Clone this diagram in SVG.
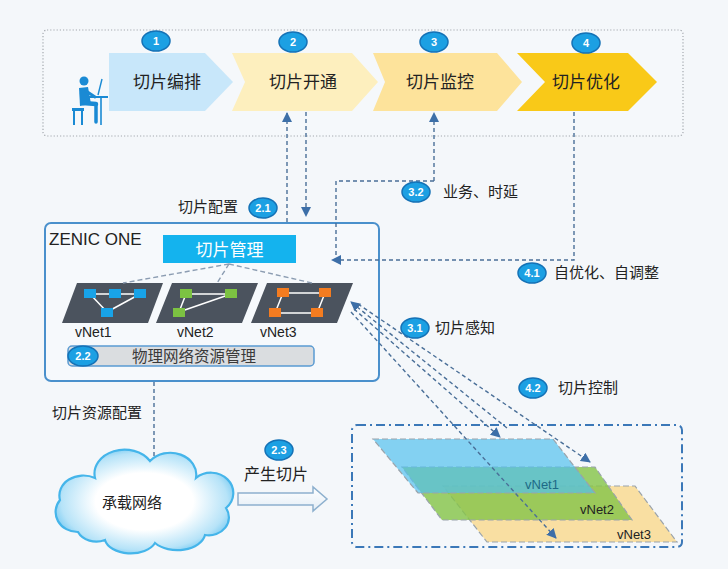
<svg xmlns="http://www.w3.org/2000/svg" width="728" height="569" viewBox="0 0 728 569">
  <defs>
    <style>
      .cn { font-family: "Noto Sans CJK SC", "Noto Sans", sans-serif; fill: #222; }
      .lat { font-family: "Liberation Sans", "Noto Sans", sans-serif; fill: #222; }
      .badge ellipse { fill: #1ca0e3; stroke: #1572b6; stroke-width: 1.5; }
      .badge text { font-family: "Liberation Sans", sans-serif; font-weight: bold; font-size: 11px; fill: #fff; text-anchor: middle; }
      .flow { fill: none; stroke: #4a6f98; stroke-width: 1.4; stroke-dasharray: 4 3; }
      .mgmt { fill: none; stroke: #8c9db2; stroke-width: 1.4; stroke-dasharray: 5 3; }
      .pg { fill: #4b535e; }
      .link { stroke: #ffffff; stroke-width: 1.5; }
      .slice { stroke: #9aa3ab; stroke-width: 1.2; stroke-dasharray: 6 3; }
    </style>
    <marker id="arr" viewBox="0 0 10 10" refX="9" refY="5" markerWidth="10" markerHeight="10" markerUnits="userSpaceOnUse" orient="auto">
      <path d="M0,0 L10,5 L0,10 Z" fill="#3d6fa8"/>
    </marker>
    <radialGradient id="cloudFill" cx="50%" cy="50%" r="55%">
      <stop offset="0" stop-color="#ffffff"/>
      <stop offset="0.5" stop-color="#ffffff"/>
      <stop offset="0.85" stop-color="#b6e3f8"/>
      <stop offset="1" stop-color="#6cc6f1"/>
    </radialGradient>
    <linearGradient id="hollow" x1="0" y1="0" x2="0" y2="1">
      <stop offset="0" stop-color="#ffffff"/>
      <stop offset="1" stop-color="#e3edf6"/>
    </linearGradient>
  </defs>

  <!-- canvas -->
  <rect x="0" y="0" width="728" height="569" fill="#f4f7fa"/>

  <!-- process lane -->
  <g id="lane">
    <rect x="43" y="30" width="640" height="106" rx="4" fill="#f5f8fb" stroke="#a3a8ae" stroke-width="1.2" stroke-dasharray="1.2 2"/>
  </g>

  <!-- operator icon -->
  <g id="operator" fill="#1a8ad4" stroke="#1a8ad4">
    <circle cx="84" cy="81" r="4.5" stroke="none"/>
    <path d="M79,88 L88,87 L91,104 L80,106 Z" stroke="none"/>
    <line x1="86" y1="91" x2="95" y2="97" stroke-width="3" stroke-linecap="round"/>
    <line x1="83" y1="103" x2="96" y2="104" stroke-width="4.5" stroke-linecap="round"/>
    <line x1="96" y1="104" x2="96" y2="122" stroke-width="3.5" stroke-linecap="round"/>
    <rect x="72" y="108" width="12" height="3" stroke="none"/>
    <line x1="74" y1="110" x2="74" y2="125" stroke-width="2"/>
    <line x1="82" y1="110" x2="82" y2="125" stroke-width="2"/>
    <rect x="87" y="96" width="21" height="2" stroke="none"/>
    <line x1="101" y1="97" x2="101" y2="125" stroke-width="1.6"/>
    <line x1="98" y1="95" x2="102" y2="79" stroke-width="1.4"/>
  </g>

  <!-- stage 1 -->
  <g id="stage1">
    <polygon points="109,53 205,53 233,82 205,111 109,111" fill="#c8e7fa"/>
    <text class="cn" x="167" y="88" font-size="17" text-anchor="middle">切片编排</text>
    <g class="badge"><ellipse cx="156" cy="41" rx="14" ry="10"/><text x="156" y="45">1</text></g>
  </g>
  <!-- stage 2 -->
  <g id="stage2">
    <polygon points="232,53 352,53 378,82 352,111 232,111 245,82" fill="#fdefbe"/>
    <text class="cn" x="303" y="88" font-size="17" text-anchor="middle">切片开通</text>
    <g class="badge"><ellipse cx="293" cy="42" rx="14" ry="10"/><text x="293" y="46">2</text></g>
  </g>
  <!-- stage 3 -->
  <g id="stage3">
    <polygon points="373,53 497,53 522,82 497,111 373,111 385,82" fill="#fde39b"/>
    <text class="cn" x="440" y="88" font-size="17" text-anchor="middle">切片监控</text>
    <g class="badge"><ellipse cx="434" cy="42" rx="14" ry="10"/><text x="434" y="46">3</text></g>
  </g>
  <!-- stage 4 -->
  <g id="stage4">
    <polygon points="517,53 628,53 657,82 628,111 517,111 545,82" fill="#f9c918"/>
    <text class="cn" x="586" y="88" font-size="17" text-anchor="middle">切片优化</text>
    <g class="badge"><ellipse cx="586" cy="43" rx="14" ry="10"/><text x="586" y="47">4</text></g>
  </g>

  <!-- controller -->
  <g id="zenic">
    <rect x="45" y="223" width="334" height="158" rx="6" fill="#f6f9fc" stroke="#4a90cc" stroke-width="2"/>
    <text class="lat" x="49" y="245" font-size="17">ZENIC ONE</text>
  </g>
  <g id="slice-mgmt">
    <rect x="163" y="235" width="133" height="28" fill="#14b3ee"/>
    <text class="cn" x="229.5" y="256" font-size="17" text-anchor="middle" style="fill:#ffffff">切片管理</text>
  </g>

  <g id="vnet1">
    <polygon class="pg" points="77,283 163,283 148,323 62,323"/>
    <line class="link" x1="90" y1="294" x2="140" y2="294"/>
    <line class="link" x1="90" y1="294" x2="107" y2="312"/>
    <line class="link" x1="140" y1="294" x2="107" y2="312"/>
    <g fill="#18a3e8">
      <rect x="84" y="289" width="12" height="9"/>
      <rect x="109" y="289" width="12" height="9"/>
      <rect x="134" y="289" width="12" height="9"/>
      <rect x="101" y="308" width="12" height="9"/>
    </g>
    <text class="lat" x="75" y="337" font-size="14">vNet1</text>
  </g>
  <g id="vnet2">
    <polygon class="pg" points="172,283 258,283 242,323 156,323"/>
    <line class="link" x1="186" y1="294" x2="231" y2="294"/>
    <line class="link" x1="186" y1="294" x2="179" y2="312"/>
    <line class="link" x1="179" y1="312" x2="231" y2="294"/>
    <g fill="#7cc242">
      <rect x="180" y="289" width="12" height="9"/>
      <rect x="225" y="289" width="12" height="9"/>
      <rect x="173" y="308" width="12" height="9"/>
    </g>
    <text class="lat" x="177" y="337" font-size="14">vNet2</text>
  </g>
  <g id="vnet3">
    <polygon class="pg" points="267,283 353,283 337,323 251,323"/>
    <line class="link" x1="283" y1="293" x2="325" y2="293"/>
    <line class="link" x1="283" y1="293" x2="275" y2="313"/>
    <line class="link" x1="275" y1="313" x2="317" y2="313"/>
    <line class="link" x1="325" y1="293" x2="317" y2="313"/>
    <g fill="#f47c20">
      <rect x="277" y="288" width="12" height="9"/>
      <rect x="319" y="288" width="12" height="9"/>
      <rect x="269" y="308" width="12" height="9"/>
      <rect x="311" y="308" width="12" height="9"/>
    </g>
    <text class="lat" x="260" y="337" font-size="14">vNet3</text>
  </g>

  <g id="phys-res">
    <rect x="68" y="346" width="246" height="20" rx="4" fill="#dadde0" stroke="#5a9bd2" stroke-width="1.5"/>
    <text class="cn" x="194" y="362" font-size="15.5" text-anchor="middle" style="fill:#3a3a3a">物理网络资源管理</text>
    <g class="badge"><ellipse cx="83" cy="356" rx="15" ry="10"/><text x="83" y="360">2.2</text></g>
  </g>

  <!-- bearer network -->
  <g id="bearer">
    <path d="M78,532 A22,20 0 0 1 60,500 A24,20 0 0 1 95,478 A30,24 0 0 1 150,461 A26,22 0 0 1 196,478 A22,20 0 0 1 226,508 A20,18 0 0 1 205,535 A28,18 0 0 1 155,543 A26,16 0 0 1 105,540 A20,16 0 0 1 78,532 Z" fill="url(#cloudFill)" stroke="#45b5ea" stroke-width="2.2"/>
    <text class="cn" x="132" y="508" font-size="15" text-anchor="middle">承载网络</text>
  </g>

  <g id="produce">
    <polygon points="238,493 313,493 313,487 327,499 313,511 313,505 238,505" fill="url(#hollow)" stroke="#8db0ce" stroke-width="1.5"/>
    <text class="cn" x="276" y="480" font-size="16" text-anchor="middle">产生切片</text>
    <g class="badge"><ellipse cx="279" cy="450" rx="14" ry="10"/><text x="279" y="454">2.3</text></g>
  </g>

  <!-- slice instances -->
  <g id="slices">
    <rect x="352" y="425" width="330" height="122" rx="5" fill="none" stroke="#3b78b8" stroke-width="2" stroke-dasharray="9 4 2 4"/>
    <polygon class="slice" points="443,486 635,486 677,542 487,542" fill="#f9dfa2"/>
    <polygon class="slice" points="402,467 595,467 632,520 442,520" fill="#86c54a" fill-opacity="0.82"/>
    <polygon class="slice" points="373,439 553,439 595,493 418,493" fill="#52c1ee" fill-opacity="0.7"/>
    <text class="lat" x="525" y="489" font-size="13" style="fill:#1d6a86">vNet1</text>
    <text class="lat" x="580" y="514" font-size="13">vNet2</text>
    <text class="lat" x="617" y="539" font-size="13">vNet3</text>
  </g>

  <!-- connectors -->
  <g id="connectors">
    <line class="mgmt" x1="229" y1="264" x2="123" y2="283"/>
    <line class="mgmt" x1="229" y1="264" x2="217" y2="283"/>
    <line class="mgmt" x1="229" y1="264" x2="312" y2="283"/>

    <line class="flow" x1="287" y1="222" x2="287" y2="113" marker-end="url(#arr)"/>
    <line class="flow" x1="306" y1="112" x2="306" y2="216" marker-end="url(#arr)"/>

    <line class="flow" x1="434" y1="181" x2="434" y2="113" marker-end="url(#arr)"/>
    <polyline class="flow" points="434,181 336,181 336,260"/>
    <polyline class="flow" points="574,112 574,260 332,260" marker-end="url(#arr)"/>

    <line class="flow" x1="507" y1="428" x2="351" y2="302" marker-end="url(#arr)"/>
    <line class="flow" x1="354" y1="309" x2="500" y2="437" marker-end="url(#arr)"/>
    <line class="flow" x1="358" y1="304" x2="590" y2="462" marker-end="url(#arr)"/>
    <line class="flow" x1="351" y1="312" x2="556" y2="538" marker-end="url(#arr)"/>

    <line class="flow" x1="154" y1="382" x2="154" y2="458"/>
  </g>

  <!-- annotations -->
  <g id="labels">
    <text class="cn" x="178" y="212" font-size="15">切片配置</text>
    <g class="badge"><ellipse cx="263" cy="208" rx="14" ry="10"/><text x="263" y="212">2.1</text></g>

    <g class="badge"><ellipse cx="416" cy="192" rx="14" ry="10"/><text x="416" y="196">3.2</text></g>
    <text class="cn" x="443" y="197" font-size="15">业务、时延</text>

    <g class="badge"><ellipse cx="532" cy="273" rx="14" ry="10"/><text x="532" y="277">4.1</text></g>
    <text class="cn" x="554" y="278" font-size="15">自优化、自调整</text>

    <g class="badge"><ellipse cx="415" cy="328" rx="14" ry="10"/><text x="415" y="332">3.1</text></g>
    <text class="cn" x="435" y="333" font-size="15">切片感知</text>

    <g class="badge"><ellipse cx="533" cy="388" rx="14" ry="10"/><text x="533" y="392">4.2</text></g>
    <text class="cn" x="558" y="393" font-size="15">切片控制</text>

    <text class="cn" x="52" y="418" font-size="15">切片资源配置</text>
  </g>
</svg>
